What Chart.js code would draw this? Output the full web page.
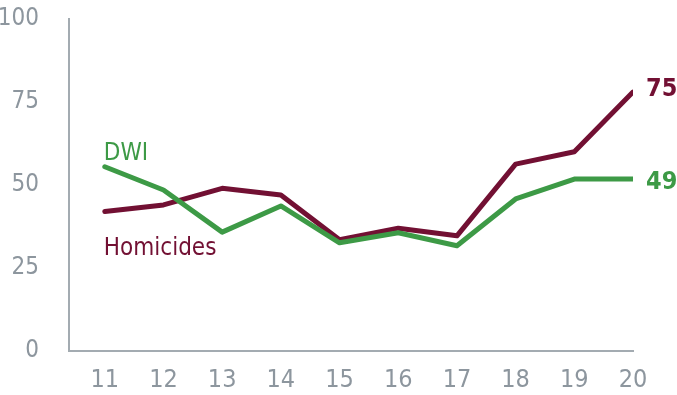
<!DOCTYPE html>
<html>
<head>
<meta charset="utf-8">
<script src="https://cdn.jsdelivr.net/npm/chart.js@4"></script>
<style>
  html, body { margin: 0; padding: 0; background: #fff; }
  #wrap { width: 677px; height: 395px; position: relative; }
</style>
</head>
<body>
<div id="wrap"><canvas id="c"></canvas></div>
<script>
const years = [11, 12, 13, 14, 15, 16, 17, 18, 19, 20];
const homicides = [42, 44, 49, 47, 33.5, 37, 34.7, 56.3, 60, 78];
const dwi = [55.5, 48.5, 35.8, 43.7, 32.6, 35.6, 31.7, 45.8, 51.8, 51.8];
const yTicks = [0, 25, 50, 75, 100];
const endLabels = { homicides: "75", dwi: "49" };

const MAROON = "#721033";
const GREEN = "#3d9a46";
const GREY = "#8d969e";
const FONT = "'DejaVu Sans Condensed', 'Liberation Sans Narrow', sans-serif";

const seriesLabels = {
  id: "seriesLabels",
  afterDatasetsDraw(chart) {
    const { ctx } = chart;
    const x = chart.scales.x;
    const y = chart.scales.y;
    const first = years[0];
    const last = years[years.length - 1];
    ctx.save();
    ctx.textBaseline = "middle";
    ctx.textAlign = "left";

    ctx.font = "24px " + FONT;
    ctx.fillStyle = GREEN;
    ctx.fillText("DWI", x.getPixelForValue(first) - 1, y.getPixelForValue(dwi[0]) - 13);
    ctx.fillStyle = MAROON;
    ctx.fillText("Homicides", x.getPixelForValue(first) - 1, y.getPixelForValue(homicides[0]) + 37);

    ctx.font = "bold 25px " + FONT;
    ctx.fillStyle = MAROON;
    ctx.fillText(endLabels.homicides, x.getPixelForValue(last) + 13, y.getPixelForValue(homicides[homicides.length - 1]) - 3);
    ctx.fillStyle = GREEN;
    ctx.fillText(endLabels.dwi, x.getPixelForValue(last) + 13, y.getPixelForValue(dwi[dwi.length - 1]) + 3);
    ctx.restore();
  },
};

new Chart(document.getElementById("c"), {
  type: "line",
  plugins: [seriesLabels],
  data: {
    datasets: [
      {
        label: "DWI",
        data: years.map((yr, i) => ({ x: yr, y: dwi[i] })),
        borderColor: GREEN,
        backgroundColor: GREEN,
      },
      {
        label: "Homicides",
        data: years.map((yr, i) => ({ x: yr, y: homicides[i] })),
        borderColor: MAROON,
        backgroundColor: MAROON,
      },
    ],
  },
  options: {
    animation: false,
    responsive: true,
    maintainAspectRatio: false,
    elements: {
      line: { borderWidth: 5, tension: 0, borderCapStyle: "round", borderJoinStyle: "round" },
      point: { radius: 0, hoverRadius: 0 },
    },
    layout: { padding: { top: 19, right: 44, left: 0, bottom: 0 } },
    plugins: {
      legend: { display: false },
      tooltip: { enabled: false },
    },
    scales: {
      x: {
        type: "linear",
        min: 10.39,
        max: 20,
        afterBuildTicks: (scale) => {
          scale.ticks = years.map((v) => ({ value: v }));
        },
        afterFit: (scale) => {
          scale.height = 44;
          scale.paddingLeft = 0;
          scale.paddingRight = 0;
        },
        grid: { display: false },
        border: { display: true, color: "#a3abb1", width: 2 },
        ticks: {
          color: GREY,
          padding: 6,
          maxRotation: 0,
          autoSkip: false,
          font: { family: FONT, size: 25 },
        },
      },
      y: {
        min: 0,
        max: 100,
        afterBuildTicks: (scale) => {
          scale.ticks = yTicks.map((v) => ({ value: v }));
        },
        afterFit: (scale) => {
          scale.width = 69;
          scale.paddingTop = 0;
          scale.paddingBottom = 0;
        },
        grid: { display: false },
        border: { display: true, color: "#a3abb1", width: 2 },
        ticks: {
          color: GREY,
          padding: 22,
          font: { family: FONT, size: 24 },
        },
      },
    },
  },
});
</script>
</body>
</html>
